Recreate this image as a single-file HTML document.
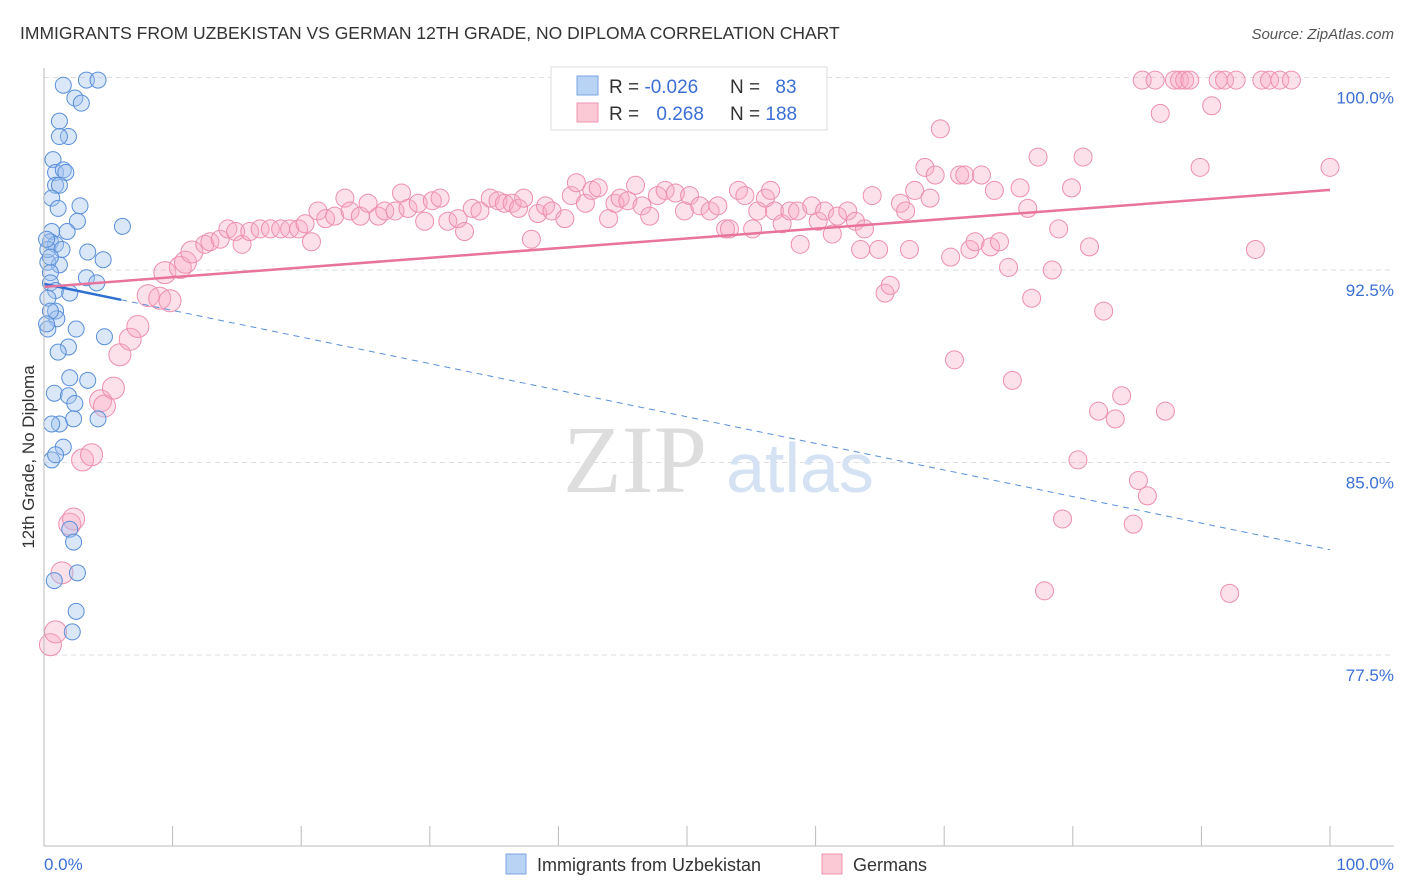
<!DOCTYPE html>
<html><head><meta charset="utf-8">
<style>
body{margin:0;background:#fff;font-family:"Liberation Sans",sans-serif;}
svg{display:block}
</style></head>
<body>
<svg id="chart" width="1406" height="892" xmlns="http://www.w3.org/2000/svg">
<text x="20" y="39" font-size="17.5" fill="#333">IMMIGRANTS FROM UZBEKISTAN VS GERMAN 12TH GRADE, NO DIPLOMA CORRELATION CHART</text>
<text x="1394" y="39" font-size="15" fill="#555" font-style="italic" text-anchor="end">Source: ZipAtlas.com</text>
<g id="grid"></g>
<g>
<text x="635" y="492" font-family="Liberation Serif,serif" font-size="96" fill="#ddd" text-anchor="middle">ZIP</text>
<text x="800" y="492" font-size="70" fill="#d4e2f4" text-anchor="middle">atlas</text>
</g>
<g id="pts"></g>
<g id="trends"></g>
<g id="axes"></g>
<text transform="translate(34,457) rotate(-90)" font-size="17" fill="#333" text-anchor="middle">12th Grade, No Diploma</text>
<g>
<rect x="551" y="67" width="276" height="63" fill="#fff" stroke="#ddd"/>
<rect x="577" y="76" width="21" height="19" fill="#b9d3f5" stroke="#7aa6e0"/>
<rect x="577" y="103" width="21" height="19" fill="#fbc8d6" stroke="#ee96b0"/>
<text x="609" y="93" font-size="19" fill="#333">R = <tspan fill="#3b6fd4">-0.026</tspan></text>
<text x="730" y="93" font-size="19" fill="#333">N = <tspan fill="#3b6fd4" dx="10">83</tspan></text>
<text x="609" y="120" font-size="19" fill="#333">R = <tspan fill="#3b6fd4" dx="12">0.268</tspan></text>
<text x="730" y="120" font-size="19" fill="#333">N = <tspan fill="#3b6fd4">188</tspan></text>
</g>
<g>
<rect x="506" y="854" width="20" height="20" fill="#b9d3f5" stroke="#7aa6e0"/>
<text x="537" y="871" font-size="18" fill="#333">Immigrants from Uzbekistan</text>
<rect x="822" y="854" width="20" height="20" fill="#fbc8d6" stroke="#ee96b0"/>
<text x="853" y="871" font-size="18" fill="#333">Germans</text>
</g>
</svg>
<script>
const blueX=[1.5,3.3,4.2,2.4,2.9,1.2,1.9,1.2,0.7,0.9,1.5,1.7,0.9,1.2,0.6,2.8,1.1,2.6,6.1,0.6,1.8,0.5,0.9,3.4,4.6,0.3,1.2,0.5,3.3,0.5,4.1,0.9,2.0,0.3,0.9,1.0,0.3,2.5,4.7,1.9,1.1,2.0,3.4,0.8,1.9,2.4,1.2,2.3,4.2,0.6,1.5,0.6,0.9,2.0,2.3,0.8,2.6,2.5,2.2,0.5,0.2,0.3,1.4,0.5,0.2];
const blueY=[99.7,99.9,99.9,99.2,99.0,98.3,97.7,97.7,96.8,96.3,96.4,96.3,95.8,95.8,95.3,95.0,94.9,94.4,94.2,94.0,94.0,93.6,93.5,93.2,92.9,92.8,92.7,92.4,92.2,92.0,92.0,91.7,91.6,91.4,90.9,90.6,90.2,90.2,89.9,89.5,89.3,88.3,88.2,87.7,87.6,87.3,86.5,86.7,86.7,86.5,85.6,85.1,85.3,82.4,81.9,80.4,80.7,79.2,78.4,90.9,90.4,93.3,93.3,93.0,93.7];
const pinkX=[0.5,0.9,1.4,2.0,2.3,3.0,3.7,4.4,4.7,5.4,5.9,6.7,7.3,8.1,9.0,9.8,9.4,10.6,11.0,11.5,12.5,12.9,13.7,14.3,14.9,15.4,16.0,16.8,17.6,18.4,19.1,19.8,20.3,20.8,21.3,21.9,22.6,23.4,23.8,24.6,25.2,26.0,26.5,27.3,27.8,28.3,29.1,29.6,30.2,30.8,31.4,32.2,32.7,33.3,33.9,34.7,35.3,35.8,36.4,36.9,37.3,37.9,38.4,39.0,39.5,40.5,41.0,41.4,42.1,42.6,43.1,43.9,44.4,44.8,45.4,46.0,46.5,47.1,47.7,48.3,49.1,49.8,50.2,51.0,51.8,52.4,53.0,53.3,54.0,54.5,55.1,55.5,56.1,56.5,56.8,57.4,58.0,58.6,58.8,59.7,60.2,60.7,61.3,61.7,62.5,63.1,63.5,63.8,64.4,64.9,65.4,65.8,66.6,67.0,67.3,67.7,68.5,68.9,69.3,69.7,70.5,70.8,71.2,71.6,72.0,72.4,72.9,73.6,73.9,74.3,75.0,75.3,75.9,76.5,76.8,77.3,77.8,78.4,78.9,79.2,79.9,80.4,80.8,81.3,82.0,82.4,83.3,83.8,84.7,85.1,85.4,85.8,86.8,87.2,87.9,88.3,88.7,89.9,90.8,91.3,91.8,92.2,92.7,94.2,94.7,95.3,96.1,97.0,100,86.4,89.1];
const pinkY=[77.9,78.4,80.7,82.6,82.8,85.1,85.3,87.4,87.2,87.9,89.2,89.8,90.3,91.5,91.4,91.3,92.4,92.6,92.8,93.2,93.5,93.6,93.7,94.1,94.0,93.5,94.0,94.1,94.1,94.1,94.1,94.1,94.3,93.6,94.8,94.5,94.6,95.3,94.8,94.6,95.1,94.6,94.8,94.8,95.5,94.9,95.1,94.4,95.2,95.3,94.4,94.5,94.0,94.9,94.8,95.3,95.2,95.1,95.1,94.9,95.3,93.7,94.7,95.0,94.8,94.5,95.4,95.9,95.1,95.6,95.7,94.5,95.1,95.3,95.2,95.8,95.0,94.6,95.4,95.6,95.5,94.8,95.4,95.0,94.8,95.0,94.1,94.1,95.6,95.4,94.1,94.8,95.3,95.6,94.8,94.3,94.8,94.8,93.5,95.0,94.4,94.8,93.9,94.6,94.8,94.4,93.3,94.1,95.4,93.3,91.6,91.9,95.1,94.8,93.3,95.6,96.5,95.3,96.2,98.0,93.0,89.0,96.2,96.2,93.3,93.6,96.2,93.4,95.6,93.6,92.6,88.2,95.7,94.9,91.4,96.9,80.0,92.5,94.1,82.8,95.7,85.1,96.9,93.4,87.0,90.9,86.7,87.6,82.6,84.3,99.9,83.7,98.6,87.0,99.9,99.9,99.9,96.5,98.9,99.9,99.9,79.9,99.9,93.3,99.9,99.9,99.9,99.9,96.5,99.9,99.9];
const yTicks=[100,92.5,85,77.5];
const yTickLabels=["100.0%","92.5%","85.0%","77.5%"];
const blueTrend=[91.96,81.6];
const pinkTrend=[91.84,95.62];
const NS="http://www.w3.org/2000/svg";
const X0=44,X1=1330,Y0=77.5,YB=846;
const sx=v=>X0+(X1-X0)*v/100;
const sy=v=>Y0+(100-v)*(192.5/7.5);
function mk(tag,attrs,parent){const e=document.createElementNS(NS,tag);for(const k in attrs)e.setAttribute(k,attrs[k]);parent.appendChild(e);return e;}
const grid=document.getElementById('grid'),axes=document.getElementById('axes'),pts=document.getElementById('pts'),tr=document.getElementById('trends');
yTicks.forEach((t,i)=>{
 const l=mk('line',{x1:X0,x2:1394,y1:sy(t),y2:sy(t),stroke:'#ddd','stroke-dasharray':'5,4'},grid);
 
 
 const tx=mk('text',{x:1394,y:sy(t)+26,'font-size':17,fill:'#3b6fd4','text-anchor':'end'},axes);
 tx.textContent=yTickLabels[i];
 
 
});
const ax=mk('line',{x1:X0,x2:1394,y1:YB,y2:YB,stroke:'#bbb'},axes);


const ay=mk('line',{x1:X0,x2:X0,y1:68,y2:YB,stroke:'#bbb'},axes);


for(let i=0;i<=10;i++){
 const t=mk('line',{x1:sx(i*10),x2:sx(i*10),y1:YB,y2:YB-20,stroke:'#bbb'},axes);
 
 
}
const xl0=mk('text',{x:44,y:870,'font-size':17,fill:'#3b6fd4'},axes);xl0.textContent='0.0%';


const xl1=mk('text',{x:1394,y:870,'font-size':17,fill:'#3b6fd4','text-anchor':'end'},axes);xl1.textContent='100.0%';


pinkX.forEach((v,i)=>{
 const c=mk('circle',{cx:sx(v),cy:sy(pinkY[i]),r:v<12?11:9,fill:'rgba(248,170,195,0.35)',stroke:'#ec8fae','stroke-width':1},pts);
 
 
});
blueX.forEach((v,i)=>{
 const c=mk('circle',{cx:sx(v),cy:sy(blueY[i]),r:8,fill:'rgba(160,195,240,0.4)',stroke:'#5a8fd8','stroke-width':1},pts);
 
 
});
const bAt=x=>blueTrend[0]+(blueTrend[1]-blueTrend[0])*x/100;
const b1=mk('line',{x1:sx(0),y1:sy(bAt(0)),x2:sx(6),y2:sy(bAt(6)),stroke:'#2f6fd0','stroke-width':2.5},tr);


const b2=mk('line',{x1:sx(6),y1:sy(bAt(6)),x2:sx(100),y2:sy(bAt(100)),stroke:'#5a8fd8','stroke-width':1,'stroke-dasharray':'6,5'},tr);


const p1=mk('line',{x1:sx(0),y1:sy(pinkTrend[0]),x2:sx(100),y2:sy(pinkTrend[1]),stroke:'#e8739c','stroke-width':2.5},tr);


</script>
</body></html>
